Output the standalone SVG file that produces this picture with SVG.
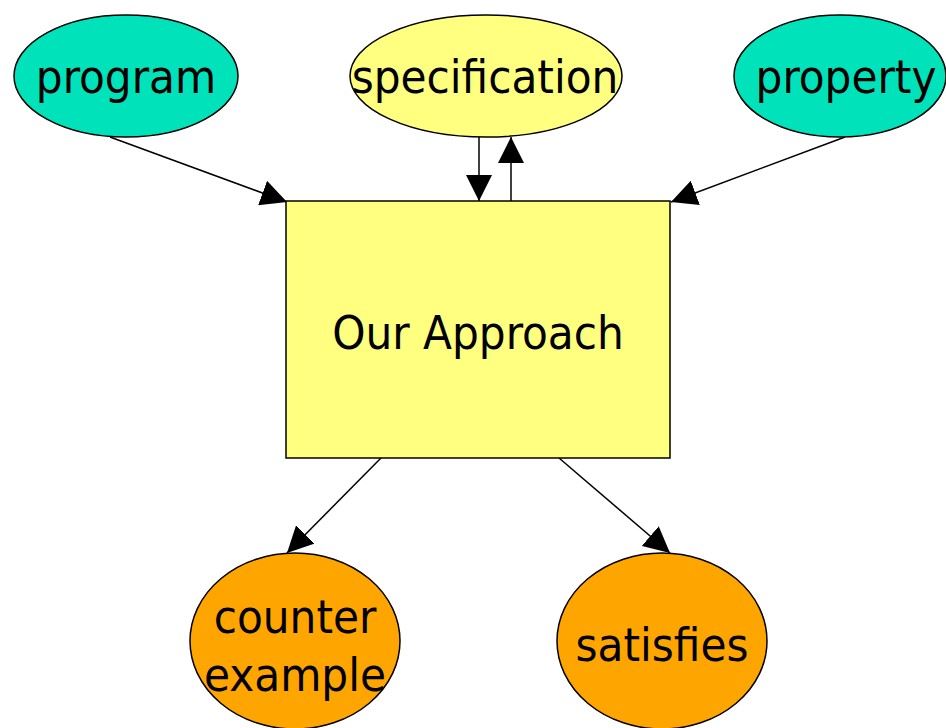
<svg xmlns="http://www.w3.org/2000/svg" width="946" height="728" viewBox="0 0 946 728">
  <style>
    .lbl { font-family: "DejaVu Sans Condensed", "DejaVu Sans", sans-serif; font-size: 47px; fill: #000; text-anchor: middle; }
    .node { stroke: #000; stroke-width: 1.5; }
    .teal { fill: #00E3BA; }
    .yellow { fill: #FFFF80; }
    .orange { fill: #FFA500; }
    .edge { stroke: #000; stroke-width: 1.5; fill: none; marker-end: url(#arrow); }
  </style>
  <defs>
    <marker id="arrow" viewBox="0 0 26 26" refX="26" refY="13" markerWidth="26" markerHeight="26" markerUnits="userSpaceOnUse" orient="auto">
      <path d="M0,0 L26,13 L0,26 Z" fill="#000"/>
    </marker>
  </defs>
  <rect width="946" height="728" fill="#fff"/>

  <g id="connectors">
    <line class="edge" x1="110" y1="137" x2="287" y2="202"/>
    <line class="edge" x1="845" y1="137" x2="671" y2="202"/>
    <line class="edge" x1="479" y1="137" x2="479" y2="201"/>
    <line class="edge" x1="511" y1="201" x2="511" y2="137"/>
    <line class="edge" x1="381" y1="458" x2="287" y2="553"/>
    <line class="edge" x1="559" y1="458" x2="670" y2="553"/>
  </g>

  <g id="program">
    <ellipse class="node teal" cx="126" cy="76" rx="112" ry="61"/>
    <text class="lbl" x="126" y="93">program</text>
  </g>
  <g id="specification">
    <ellipse class="node yellow" cx="486" cy="76" rx="136" ry="61"/>
    <text class="lbl" x="485" y="93">specification</text>
  </g>
  <g id="property">
    <ellipse class="node teal" cx="840" cy="76" rx="106" ry="61"/>
    <text class="lbl" x="846" y="93">property</text>
  </g>
  <g id="approach">
    <rect class="node yellow" x="286" y="201" width="384" height="257"/>
    <text class="lbl" x="478" y="349">Our Approach</text>
  </g>
  <g id="counter-example">
    <ellipse class="node orange" cx="295" cy="641" rx="105" ry="88"/>
    <text class="lbl" x="295" y="633">counter</text>
    <text class="lbl" x="295" y="691">example</text>
  </g>
  <g id="satisfies">
    <ellipse class="node orange" cx="662" cy="641" rx="105" ry="88"/>
    <text class="lbl" x="662" y="661">satisfies</text>
  </g>
</svg>
